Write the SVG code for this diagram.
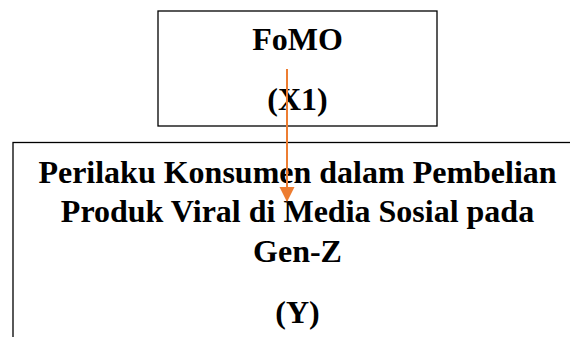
<svg xmlns="http://www.w3.org/2000/svg" width="570" height="337" viewBox="0 0 570 337">
<style>
.box{fill:#fff;stroke:#000;stroke-width:1.3}
.t{font-family:"Liberation Serif","Times New Roman",serif;font-weight:bold;font-size:32px;text-anchor:middle;fill:#000}
.c{stroke:#ED7D31;stroke-width:2;fill:none}
</style>
<defs>
<marker id="ah" markerUnits="userSpaceOnUse" markerWidth="16" markerHeight="16" refX="14" refY="7.5" orient="auto">
<path d="M0,0 L15,7.5 L0,15 Z" fill="#ED7D31"/>
</marker>
</defs>
<g id="node-fomo">
<rect class="box" x="158" y="11" width="279" height="115"/>
<text class="t" x="297.5" y="50">FoMO</text>
<text class="t" x="297.5" y="110">(X1)</text>
</g>
<g id="node-y">
<rect class="box" x="13" y="142.5" width="569" height="220"/>
<text class="t" x="297.5" y="183">Perilaku Konsumen dalam Pembelian</text>
<text class="t" x="297.5" y="222">Produk Viral di Media Sosial pada</text>
<text class="t" x="297.5" y="262">Gen-Z</text>
<text class="t" x="297.5" y="323">(Y)</text>
</g>
<g id="connectors">
<line class="c" x1="287" y1="69" x2="287" y2="201" marker-end="url(#ah)"/>
</g>
</svg>
